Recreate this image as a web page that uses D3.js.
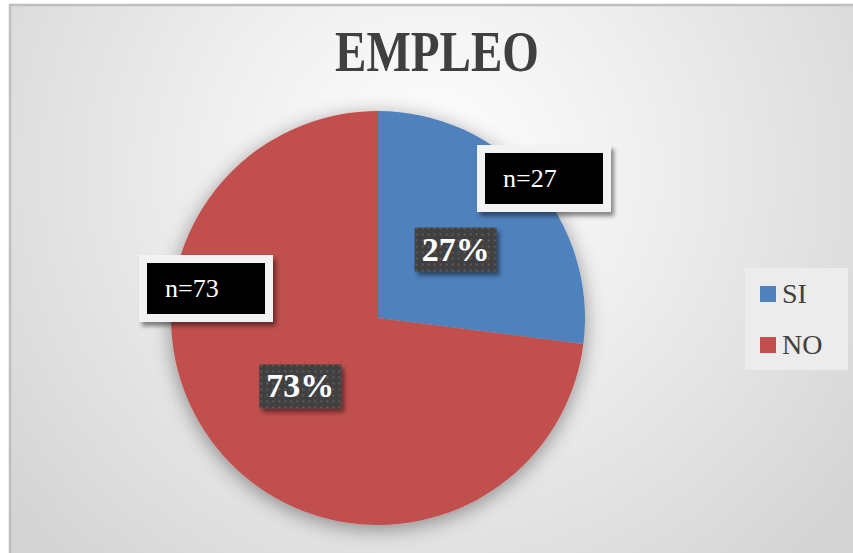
<!DOCTYPE html>
<html>
<head>
    <title>Empleo</title>
    <script src="https://d3js.org/d3.v7.min.js"></script>
    <style>
        body { margin: 0; background: #fff; }
    </style>
</head>
<body>
<script>
// Chart data
const categories = ["SI", "NO"];
const counts = [27, 73];
const percents = [27, 73];
const colors = ["#4F81BD", "#C0504D"];

const width = 853, height = 553;
const cx = 378, cy = 318, radius = 207;

const svg = d3.select("body").append("svg")
    .attr("width", width)
    .attr("height", height);

const defs = svg.append("defs");

// Background gradient
const bg = defs.append("radialGradient")
    .attr("id", "bg")
    .attr("gradientUnits", "userSpaceOnUse")
    .attr("cx", 430).attr("cy", 170).attr("r", 540);
bg.append("stop").attr("offset", "0%").attr("stop-color", "#ffffff");
bg.append("stop").attr("offset", "40%").attr("stop-color", "#efefef");
bg.append("stop").attr("offset", "100%").attr("stop-color", "#d4d4d4");

// Soft shadow for the pie and boxes
const sh = defs.append("filter").attr("id", "shadow")
    .attr("x", "-20%").attr("y", "-20%").attr("width", "140%").attr("height", "140%");
sh.append("feDropShadow").attr("dx", 0).attr("dy", 4)
    .attr("stdDeviation", 10).attr("flood-color", "#000").attr("flood-opacity", 0.4);

const sh2 = defs.append("filter").attr("id", "boxshadow")
    .attr("x", "-20%").attr("y", "-20%").attr("width", "150%").attr("height", "160%");
sh2.append("feDropShadow").attr("dx", 3).attr("dy", 4)
    .attr("stdDeviation", 2).attr("flood-color", "#000").attr("flood-opacity", 0.45);

// Dotted pattern for percentage labels
const pat = defs.append("pattern").attr("id", "dots")
    .attr("patternUnits", "userSpaceOnUse")
    .attr("width", 6).attr("height", 6);
pat.append("rect").attr("width", 6).attr("height", 6).attr("fill", "#404040");
pat.append("rect").attr("x", 2).attr("y", 2).attr("width", 2).attr("height", 2).attr("fill", "#5c5c5c");

// Chart area
svg.append("rect")
    .attr("x", 10).attr("y", 5)
    .attr("width", width + 10).attr("height", height + 10)
    .attr("fill", "url(#bg)")
    .attr("stroke", "#bfbfbf")
    .attr("stroke-width", 2.5);

// Title
svg.append("text")
    .attr("transform", `translate(437,71) scale(0.84,1)`)
    .attr("text-anchor", "middle")
    .attr("font-family", "Liberation Serif, serif")
    .attr("font-weight", "bold")
    .attr("font-size", 56)
    .attr("fill", "#404040")
    .text("EMPLEO");

// Pie
const pie = d3.pie().sort(null).value(d => d);
const arcs = pie(counts);
const arc = d3.arc().innerRadius(0).outerRadius(radius);
const labelArc = d3.arc().innerRadius(radius * 0.5).outerRadius(radius * 0.5);

const g = svg.append("g").attr("transform", `translate(${cx},${cy})`);

g.append("g").attr("filter", "url(#shadow)")
  .selectAll("path")
  .data(arcs)
  .join("path")
    .attr("d", arc)
    .attr("fill", (d, i) => colors[i]);

// Percentage labels
const pl = g.selectAll("g.pct")
  .data(arcs)
  .join("g")
    .attr("class", "pct")
    .attr("transform", d => `translate(${labelArc.centroid(d)})`);
pl.append("rect")
    .attr("x", -41).attr("y", -22)
    .attr("width", 82).attr("height", 44)
    .attr("fill", "url(#dots)")
    .attr("filter", "url(#boxshadow)");
pl.append("text")
    .attr("text-anchor", "middle")
    .attr("y", 11)
    .attr("font-family", "Liberation Serif, serif")
    .attr("font-weight", "bold")
    .attr("font-size", 34)
    .attr("fill", "#ffffff")
    .text((d, i) => percents[i] + "%");

// Count callouts (positioned beside each slice)
const calloutPos = [[544, 178], [206, 288]];
const cl = svg.selectAll("g.callout")
  .data(arcs)
  .join("g")
    .attr("class", "callout")
    .attr("transform", (d, i) => `translate(${calloutPos[i]})`);
cl.append("rect")
    .attr("x", -67).attr("y", -33)
    .attr("width", 134).attr("height", 67)
    .attr("fill", "#f2f2f2")
    .attr("filter", "url(#boxshadow)");
cl.append("rect")
    .attr("x", -59).attr("y", -25)
    .attr("width", 118).attr("height", 51)
    .attr("fill", "#000000");
cl.append("text")
    .attr("x", -41).attr("y", 9)
    .attr("font-family", "Liberation Serif, serif")
    .attr("font-size", 26)
    .attr("fill", "#ffffff")
    .text((d, i) => "n=" + counts[i]);

// Legend
const legend = svg.append("g").attr("transform", "translate(745,268)");
legend.append("rect")
    .attr("width", 103).attr("height", 102)
    .attr("fill", "#ececec");
const li = legend.selectAll("g.item")
  .data(categories)
  .join("g")
    .attr("class", "item")
    .attr("transform", (d, i) => `translate(15,${18 + i * 51})`);
li.append("rect")
    .attr("width", 16).attr("height", 16)
    .attr("fill", (d, i) => colors[i]);
li.append("text")
    .attr("x", 22).attr("y", 17)
    .attr("font-family", "Liberation Serif, serif")
    .attr("font-size", 28)
    .attr("fill", "#404040")
    .text(d => d);
</script>
</body>
</html>
